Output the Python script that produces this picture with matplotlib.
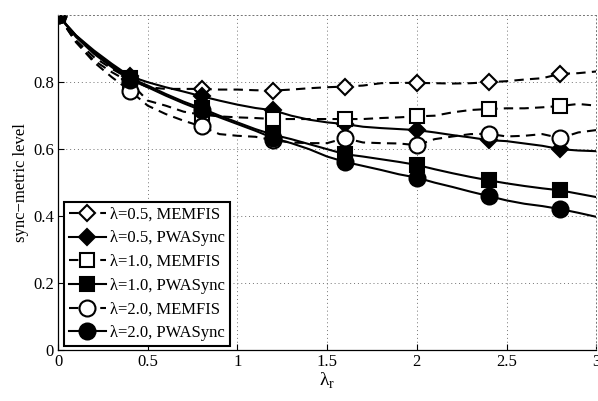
# -*- coding: utf-8 -*-
# sync-metric level vs lambda_r, MEMFIS vs PWASync

import numpy as np
import matplotlib

matplotlib.use("Agg")
import matplotlib.pyplot as plt

# %% Data

lam_r = [0.0, 0.1, 0.2, 0.3, 0.4, 0.5, 0.6, 0.7, 0.8, 0.9, 1.0,
         1.1, 1.2, 1.3, 1.4, 1.5, 1.6, 1.7, 1.8, 1.9, 2.0,
         2.1, 2.2, 2.3, 2.4, 2.5, 2.6, 2.7, 2.8, 2.9, 3.0]

memfis_05 = [1.0, 0.925, 0.875, 0.84, 0.81, 0.785, 0.78, 0.78, 0.78, 0.778, 0.778,
             0.776, 0.775, 0.778, 0.782, 0.785, 0.787, 0.79, 0.797, 0.798, 0.798,
             0.797, 0.796, 0.797, 0.80, 0.803, 0.808, 0.812, 0.825, 0.827, 0.832]
pwasync_05 = [1.0, 0.94, 0.895, 0.855, 0.818, 0.80, 0.785, 0.772, 0.758, 0.745, 0.733,
              0.723, 0.716, 0.70, 0.688, 0.68, 0.675, 0.667, 0.663, 0.66, 0.657,
              0.65, 0.642, 0.635, 0.627, 0.624, 0.617, 0.61, 0.60, 0.596, 0.594]
memfis_10 = [1.0, 0.92, 0.865, 0.83, 0.80, 0.745, 0.73, 0.712, 0.703, 0.698, 0.695,
             0.693, 0.69, 0.69, 0.69, 0.69, 0.69, 0.69, 0.693, 0.695, 0.698,
             0.70, 0.71, 0.717, 0.72, 0.722, 0.722, 0.725, 0.729, 0.735, 0.73]
pwasync_10 = [1.0, 0.94, 0.89, 0.85, 0.813, 0.79, 0.765, 0.742, 0.722, 0.70, 0.68,
              0.66, 0.643, 0.63, 0.615, 0.60, 0.585, 0.578, 0.57, 0.562, 0.553,
              0.54, 0.528, 0.517, 0.507, 0.498, 0.49, 0.483, 0.477, 0.467, 0.457]
memfis_20 = [1.0, 0.92, 0.86, 0.815, 0.775, 0.73, 0.705, 0.685, 0.668, 0.645, 0.64,
             0.637, 0.627, 0.62, 0.618, 0.618, 0.633, 0.62, 0.618, 0.617, 0.612,
             0.63, 0.638, 0.645, 0.646, 0.638, 0.64, 0.645, 0.633, 0.65, 0.657]
pwasync_20 = [1.0, 0.935, 0.885, 0.845, 0.808, 0.785, 0.76, 0.737, 0.716, 0.695, 0.675,
              0.655, 0.633, 0.618, 0.60, 0.578, 0.562, 0.55, 0.538, 0.525, 0.515,
              0.50, 0.487, 0.473, 0.46, 0.447, 0.437, 0.43, 0.421, 0.41, 0.398]

series = [
    ("\u03bb=0.5, MEMFIS", memfis_05, "D", "white", "dash", 8.3),
    ("\u03bb=0.5, PWASync", pwasync_05, "D", "black", "solid", 8.3),
    ("\u03bb=1.0, MEMFIS", memfis_10, "s", "white", "dash", 10),
    ("\u03bb=1.0, PWASync", pwasync_10, "s", "black", "solid", 10),
    ("\u03bb=2.0, MEMFIS", memfis_20, "o", "white", "dash", 11.5),
    ("\u03bb=2.0, PWASync", pwasync_20, "o", "black", "solid", 11.5),
]

x_ticks = [0, 0.5, 1, 1.5, 2, 2.5, 3]
x_tick_labels = ["0", "0.5", "1", "1.5", "2", "2.5", "3"]
y_ticks = [0, 0.2, 0.4, 0.6, 0.8]
y_tick_labels = ["0", "0.2", "0.4", "0.6", "0.8"]

# %% Plot

fs = 12
plt.rcParams["font.family"] = ["Liberation Serif", "DejaVu Serif"]
plt.rcParams["font.size"] = fs

fig = plt.figure(figsize=(5.98, 4.01), dpi=100)
ax = fig.add_axes([0.097, 0.127, 0.9, 0.835])

lw = 1.5
for label, vals, marker, face, style, ms in series:
    line, = ax.plot(
        lam_r,
        vals,
        color="black",
        linewidth=lw,
        marker=marker,
        markersize=ms,
        markerfacecolor=face,
        markeredgecolor="black",
        markeredgewidth=1.5,
        markevery=4,
        label=label,
    )
    if style == "dash":
        line.set_dashes((4.5, 3))

ax.set_xlim(0, 3)
ax.set_ylim(0, 1)
ax.set_xticks(x_ticks)
ax.set_xticklabels(x_tick_labels)
ax.set_yticks(y_ticks)
ax.set_yticklabels(y_tick_labels)
ax.tick_params(direction="in", length=4, width=0.8, top=False, right=False,
               labelsize=fs, pad=3)

ax.grid(True, linestyle=(0, (1, 3)), color="0.45", linewidth=0.7)
for side in ["top", "right"]:
    ax.spines[side].set_linestyle((0, (1, 3)))
    ax.spines[side].set_color("0.45")
    ax.spines[side].set_linewidth(0.7)
for side in ["left", "bottom"]:
    ax.spines[side].set_linewidth(0.9)

ax.set_xlabel("\u03bb$_\\mathregular{r}$", fontsize=14, labelpad=0)
ax.set_ylabel("sync\u2212metric level", fontsize=fs, labelpad=3)

leg = ax.legend(
    loc="lower left",
    bbox_to_anchor=(0.011, 0.012),
    borderaxespad=0,
    fancybox=False,
    framealpha=1,
    edgecolor="black",
    handlelength=2.2,
    handletextpad=0.25,
    labelspacing=0.46,
    borderpad=0.3,
    fontsize=fs,
)
leg.get_frame().set_linewidth(1.5)

fig.savefig("out.png", dpi=100)
